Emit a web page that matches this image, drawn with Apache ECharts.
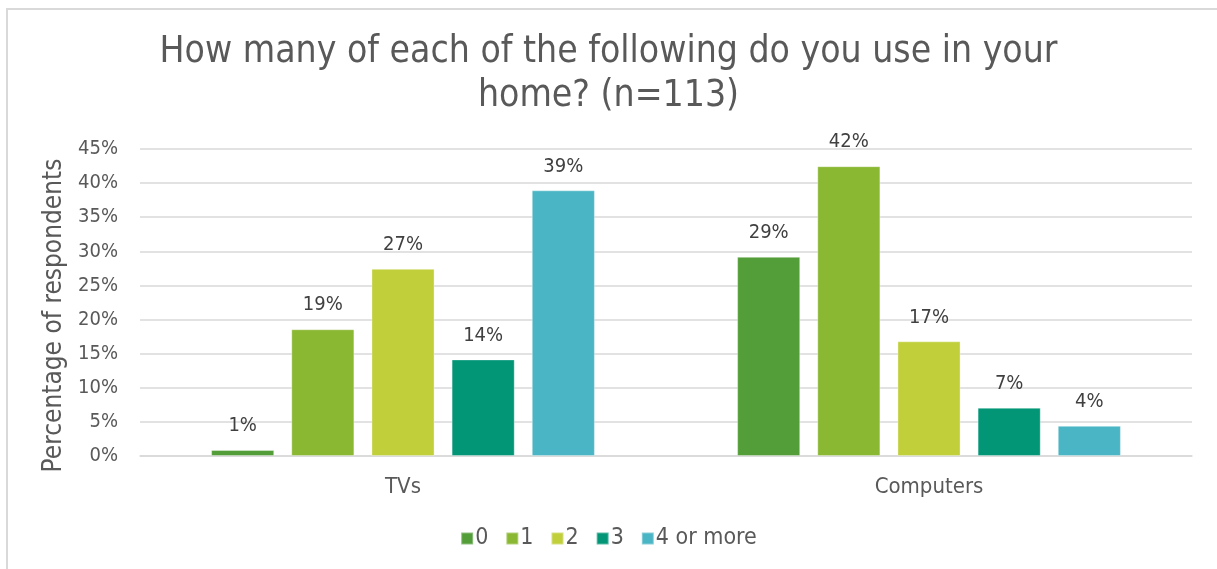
<!DOCTYPE html>
<html>
<head>
<meta charset="utf-8">
<title>Devices used at home</title>
<script src="https://cdn.jsdelivr.net/npm/echarts@6/dist/echarts.min.js"></script>
<style>
  html, body { margin: 0; padding: 0; background: #ffffff; }
  #chart { width: 1217px; height: 569px; }
</style>
</head>
<body>
<div id="chart"></div>
<script>
// Survey: number of devices per household (n = 113), share of respondents in %
const categories = ['TVs', 'Computers'];
const seriesNames = ['0', '1', '2', '3', '4 or more'];
const count0 = [0.88, 29.20];
const count1 = [18.58, 42.48];
const count2 = [27.43, 16.81];
const count3 = [14.16, 7.08];
const count4plus = [38.94, 4.42];
const yTicks = [0, 5, 10, 15, 20, 25, 30, 35, 40, 45];

const seriesValues = [count0, count1, count2, count3, count4plus];
const palette = ['#549E39', '#8AB833', '#C0CF3A', '#029676', '#4AB5C4'];
const FONT = '"DejaVu Sans Condensed", "DejaVu Sans", sans-serif';

const chart = echarts.init(document.getElementById('chart'), null, { renderer: 'canvas' });

chart.setOption({
  animation: false,
  color: palette,
  textStyle: { fontFamily: FONT },
  title: {
    text: 'How many of each of the following do you use in your\nhome? (n=113)',
    left: 'center',
    top: 25,
    textStyle: {
      fontFamily: FONT,
      fontSize: 37,
      fontWeight: 'normal',
      color: '#595959',
      lineHeight: 44
    }
  },
  // chart frame: light top and left edges
  graphic: [
    {
      type: 'line',
      shape: { x1: 7, y1: 9, x2: 1217, y2: 9 },
      style: { stroke: '#D9D9D9', lineWidth: 2 },
      silent: true
    },
    {
      type: 'line',
      shape: { x1: 7, y1: 8, x2: 7, y2: 569 },
      style: { stroke: '#D9D9D9', lineWidth: 2 },
      silent: true
    }
  ],
  legend: {
    data: seriesNames,
    bottom: 14,
    left: 'center',
    icon: 'rect',
    itemWidth: 12,
    itemHeight: 12,
    itemGap: 17,
    textStyle: { fontFamily: FONT, fontSize: 23, color: '#595959', padding: [0, 0, 0, -3] }
  },
  grid: {
    left: 140,
    right: 25,
    top: 149,
    bottom: 113,
    containLabel: false
  },
  xAxis: {
    type: 'category',
    data: categories,
    axisLine: { show: true, lineStyle: { color: '#D9D9D9', width: 1.5 } },
    axisTick: { show: false },
    axisLabel: { fontFamily: FONT, fontSize: 22, color: '#595959', margin: 20 }
  },
  yAxis: {
    type: 'value',
    min: yTicks[0],
    max: yTicks[yTicks.length - 1],
    interval: 5,
    name: 'Percentage of respondents',
    nameLocation: 'middle',
    nameGap: 52,
    nameTextStyle: { fontFamily: FONT, fontSize: 26, color: '#595959', padding: [0, 26, 0, 0] },
    axisLine: { show: false },
    axisTick: { show: false },
    splitLine: { lineStyle: { color: '#D9D9D9', width: 1.5 } },
    axisLabel: {
      fontFamily: FONT,
      fontSize: 20,
      color: '#595959',
      margin: 22,
      formatter: v => v + '%'
    }
  },
  series: seriesNames.map((name, i) => ({
    name: name,
    type: 'bar',
    data: seriesValues[i],
    barWidth: '12%',
    barGap: '27%',
    itemStyle: { color: palette[i], borderColor: 'rgba(255,255,255,0.35)', borderWidth: 1 },
    label: {
      show: true,
      position: 'top',
      distance: 14,
      fontFamily: FONT,
      fontSize: 20,
      color: '#404040',
      formatter: p => Math.round(p.value) + '%'
    }
  }))
});
</script>
</body>
</html>
